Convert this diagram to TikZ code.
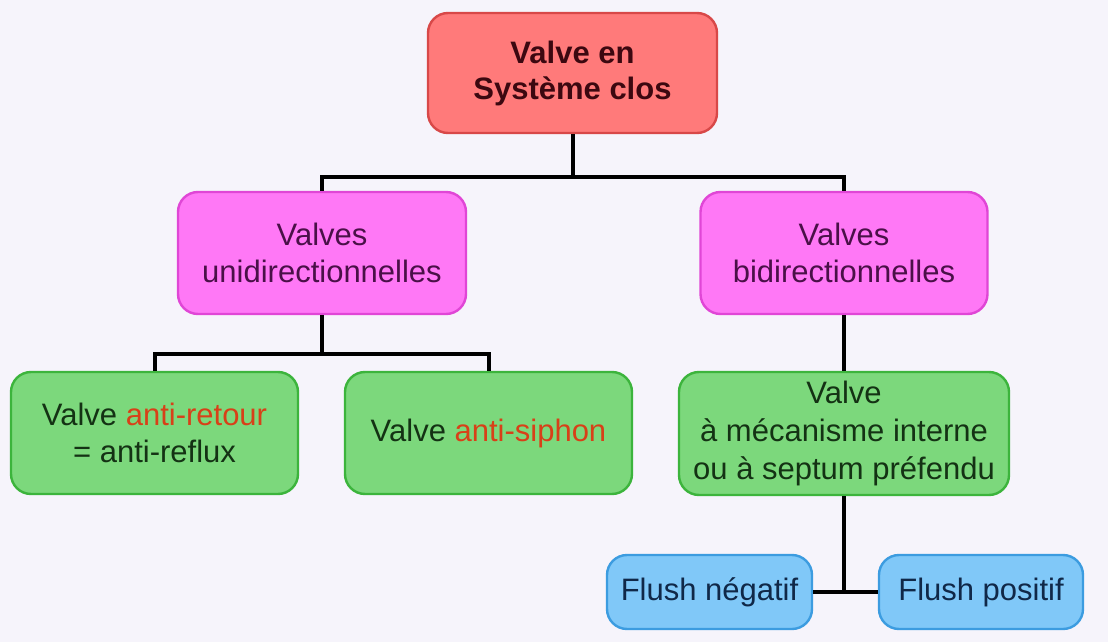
\documentclass[tikz,border=0pt]{standalone}
\usepackage{fontspec}
\setmainfont{Liberation Sans}
\definecolor{bgcol}{HTML}{F6F4FB}
\definecolor{rootfill}{HTML}{FF7A7A}
\definecolor{rootdraw}{HTML}{D84848}
\definecolor{roottext}{HTML}{3C0810}
\definecolor{magfill}{HTML}{FF78F6}
\definecolor{magdraw}{HTML}{E046D6}
\definecolor{magtext}{HTML}{4A1048}
\definecolor{grfill}{HTML}{7CD87C}
\definecolor{grdraw}{HTML}{3CB43C}
\definecolor{grtext}{HTML}{143214}
\definecolor{blfill}{HTML}{80C8F8}
\definecolor{bldraw}{HTML}{3C9CE0}
\definecolor{bltext}{HTML}{102848}
\definecolor{hilite}{HTML}{D84018}

\begin{document}
\begin{tikzpicture}[x=0.5pt,y=-0.5pt,
  box/.style={rounded corners=10pt, line width=1.2pt, align=center, inner sep=0pt,
    font=\fontsize{15.5}{18.5}\selectfont},
  rootbox/.style={box, draw=rootdraw, fill=rootfill, text=roottext,
    font=\fontsize{15.5}{18}\selectfont\bfseries},
  magbox/.style={box, draw=magdraw, fill=magfill, text=magtext},
  grbox/.style={box, draw=grdraw, fill=grfill, text=grtext},
  blbox/.style={box, draw=bldraw, fill=blfill, text=bltext},
  link/.style={line width=2pt, black}]

\fill[bgcol] (0,0) rectangle (1108,642);

%%%%%
\node[rootbox, minimum width=144.5pt, minimum height=60pt] (root) at (572.5,73) {Valve en\\Système clos};

\node[magbox, minimum width=144pt, minimum height=61pt] (uni) at (322,253) {Valves\\unidirectionnelles};
\node[magbox, minimum width=143.5pt, minimum height=61pt] (bi) at (844,253) {Valves\\bidirectionnelles};

%%%%%
\node[grbox, minimum width=143.5pt, minimum height=61pt] (retour) at (154.5,433) {Valve \textcolor{hilite}{anti-retour}\\= anti-reflux};
\node[grbox, minimum width=143.5pt, minimum height=61pt] (siphon) at (488.5,433) {Valve \textcolor{hilite}{anti-siphon}};
\node[grbox, minimum width=165pt, minimum height=61.5pt, font=\fontsize{15.5}{19}\selectfont] (meca) at (844,433.5) {Valve\\à mécanisme interne\\ou à septum préfendu};

%%%%%
\node[blbox, minimum width=102.5pt, minimum height=37pt] (neg) at (709.5,592) {Flush négatif};
\node[blbox, minimum width=102pt, minimum height=37pt] (pos) at (981,592) {Flush positif};

%%%%%
\coordinate (j1) at (572.5,177);
\coordinate (j2) at (322,354);
\coordinate (j3) at (844,592);

\draw[link] (root.south) -- (j1);
\draw[link] (uni.north) |- (j1) -| (bi.north);
\draw[link] (uni.south) -- (j2);
\draw[link] (retour.north) |- (j2) -| (siphon.north);
\draw[link] (bi.south) -- (meca.north);
\draw[link] (meca.south) -- (j3);
\draw[link] (neg.east) -- (pos.west);

\end{tikzpicture}
\end{document}
